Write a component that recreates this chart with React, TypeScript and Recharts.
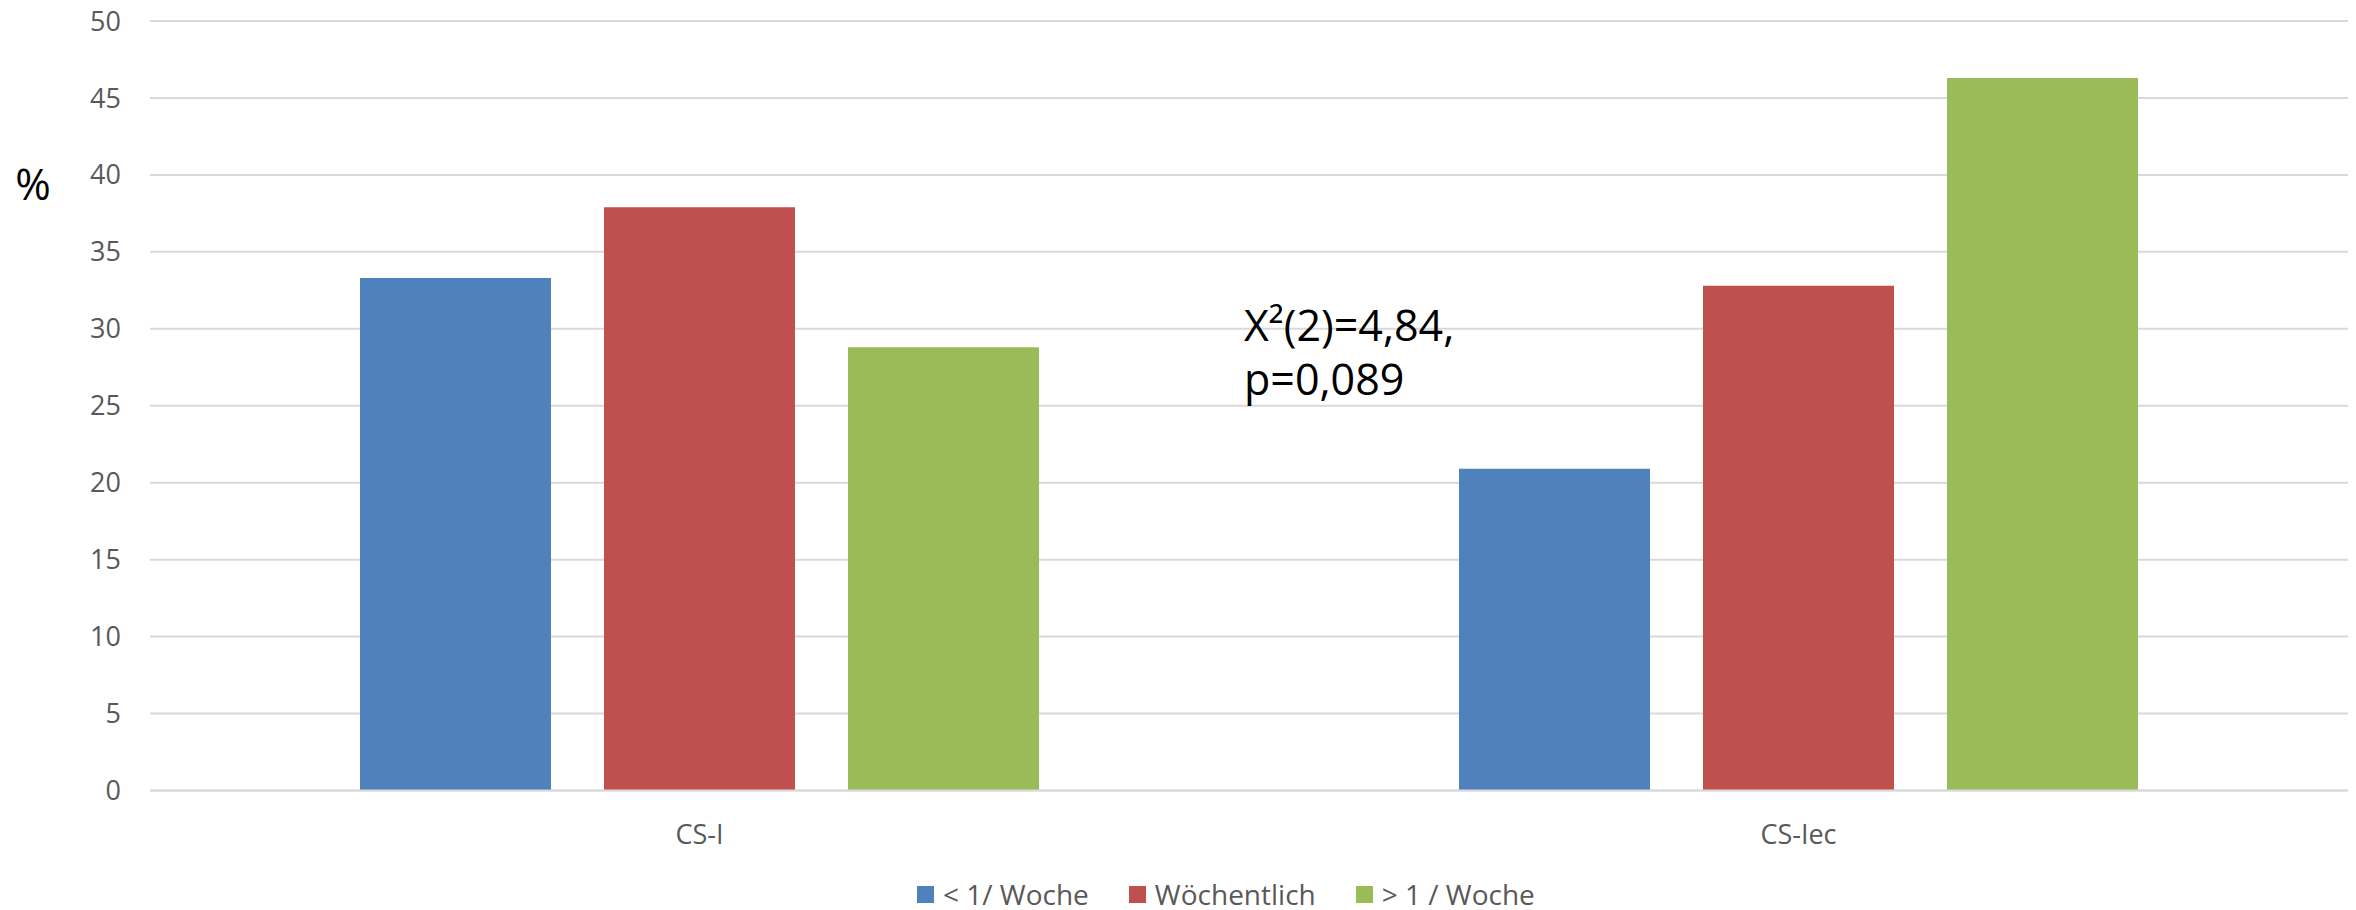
import React from 'react';
import { BarChart, Bar, XAxis, YAxis, CartesianGrid } from 'recharts';

const categories = ['CS-I', 'CS-Iec'];
const lessThanWeekly = [33.3, 20.9];
const weekly = [37.9, 32.8];
const moreThanWeekly = [28.8, 46.3];
const yTicks = [0, 5, 10, 15, 20, 25, 30, 35, 40, 45, 50];
const seriesNames = ['< 1/ Woche', 'Wöchentlich', '> 1 / Woche'];
const seriesColors = ['#4f81bd', '#c0504d', '#9bbb59'];
const statLines = ['X²(2)=4,84,', 'p=0,089'];

const data = categories.map((name, i) => ({
  name,
  less: lessThanWeekly[i],
  weekly: weekly[i],
  more: moreThanWeekly[i],
}));

const FONT = '"Open Sans", sans-serif';
const tickStyle = { fill: '#595959', fontSize: 27, fontFamily: FONT };

const App: React.FC = () => {
  return (
    <div style={{ position: 'absolute', left: 0, top: 0, width: 2356, height: 910, background: '#fff' }}>
      <BarChart
        width={2356}
        height={910}
        data={data}
        margin={{ top: 21, right: 8, bottom: 89.5, left: 0 }}
        barSize={191}
        barGap={53}
      >
        <CartesianGrid vertical={false} stroke="#d9d9d9" strokeWidth={2} />
        <XAxis
          dataKey="name"
          height={30}
          tick={tickStyle}
          tickLine={false}
          tickSize={6}
          tickMargin={28}
          axisLine={{ stroke: '#d9d9d9', strokeWidth: 2 }}
        />
        <YAxis
          width={150}
          domain={[0, 50]}
          ticks={yTicks}
          interval={0}
          tick={tickStyle}
          tickLine={false}
          tickSize={6}
          tickMargin={23}
          axisLine={false}
        />
        <Bar dataKey="less" name={seriesNames[0]} fill={seriesColors[0]} isAnimationActive={false} />
        <Bar dataKey="weekly" name={seriesNames[1]} fill={seriesColors[1]} isAnimationActive={false} />
        <Bar dataKey="more" name={seriesNames[2]} fill={seriesColors[2]} isAnimationActive={false} />
      </BarChart>

      <svg
        width={2356}
        height={910}
        style={{ position: 'absolute', left: 0, top: 0, pointerEvents: 'none' }}
      >
        <text x={33} y={200} textAnchor="middle" fontFamily={FONT} fontSize={43} fill="#000">%</text>
        {statLines.map((line, i) => (
          <text key={i} x={1244} y={341 + i * 54} fontFamily={FONT} fontSize={43} fill="#000">
            {line}
          </text>
        ))}
      </svg>

      <div
        style={{
          position: 'absolute',
          left: 917,
          top: 877,
          display: 'flex',
          alignItems: 'center',
          fontFamily: FONT,
          fontSize: 28,
          color: '#595959',
          lineHeight: '35px',
          whiteSpace: 'nowrap',
        }}
      >
        {seriesNames.map((n, i) => (
          <div key={n} style={{ display: 'flex', alignItems: 'center', marginRight: i < seriesNames.length - 1 ? 40 : 0 }}>
            <span style={{ width: 17, height: 17, background: seriesColors[i], marginRight: 9, display: 'inline-block' }} />
            <span>{n}</span>
          </div>
        ))}
      </div>
    </div>
  );
};

export default App;
